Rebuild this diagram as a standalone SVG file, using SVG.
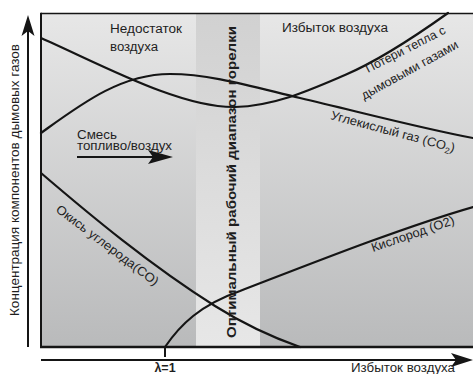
<svg xmlns="http://www.w3.org/2000/svg" width="473" height="374" viewBox="0 0 473 374">
  <defs>
    <linearGradient id="bgGrad" x1="0" y1="0" x2="0" y2="1">
      <stop offset="0" stop-color="#e7e7e7"/>
      <stop offset="1" stop-color="#b9babb"/>
    </linearGradient>
    <linearGradient id="bandGrad" x1="0" y1="0" x2="0" y2="1">
      <stop offset="0" stop-color="#d1d1d1"/>
      <stop offset="1" stop-color="#e7e7e7"/>
    </linearGradient>
  </defs>
  <style>
    .curve { fill: none; stroke: #151515; stroke-width: 2.2; stroke-linecap: round; }
    .axis { fill: none; stroke: #151515; stroke-width: 2; }
    .head { fill: #151515; stroke: none; }
    .lbl { font-family: "Liberation Sans", Arial, sans-serif; font-size: 12.5px; fill: #1e1e1e; }
    .bold { font-weight: bold; }
  </style>
  <rect x="0" y="0" width="473" height="374" fill="#ffffff"/>

  <g id="plot-area">
    <rect x="41" y="13" width="432" height="334" fill="url(#bgGrad)"/>
    <rect id="optimal-band" x="196" y="13" width="64" height="334" fill="url(#bandGrad)"/>
    <line x1="41" y1="13.5" x2="473" y2="13.5" stroke="#151515" stroke-width="1.5"/>
    <line x1="41" y1="12.8" x2="41" y2="348" stroke="#151515" stroke-width="2"/>
    <line x1="40" y1="347" x2="473" y2="347" stroke="#151515" stroke-width="2.5"/>
  </g>

  <g id="connectors">
    <path id="heat-loss" class="curve" d="M41,38 C100,64 180,108 235,107 C275,106 310,90 345,75 C380,60 420,33 448,13"/>
    <path id="co2" class="curve" d="M41,133 C80,105 120,74 170,74 C210,74 250,86 300,98 C360,112 420,128 473,138"/>
    <path id="co" class="curve" d="M41,173 C90,215 150,265 215,306 C250,328 280,340 300,347"/>
    <path id="o2" class="curve" d="M165,347 C180,325 200,305 240,291 C300,268 400,228 473,207"/>
    <line id="mix-arrow" class="axis" x1="77" y1="157" x2="160" y2="157"/>
    <polygon class="head" points="173,157 148,150 153,157 148,164"/>
  </g>

  <g id="axes">
    <line class="axis" x1="28" y1="30" x2="28" y2="347"/>
    <polygon class="head" points="28,15 21.5,36 28,31 34.5,36"/>
    <line class="axis" x1="41" y1="360" x2="460" y2="360"/>
    <polygon class="head" points="473,360 451,353 456,360 451,367"/>
    <line class="axis" x1="165" y1="347" x2="165" y2="357" stroke-width="1.5"/>
  </g>

  <g id="labels">
    <text class="lbl" x="110" y="33" textLength="72" lengthAdjust="spacingAndGlyphs">Недостаток</text>
    <text class="lbl" x="110" y="51" textLength="48" lengthAdjust="spacingAndGlyphs">воздуха</text>
    <text class="lbl" x="282" y="32" textLength="106" lengthAdjust="spacingAndGlyphs">Избыток воздуха</text>
    <text class="lbl" x="77" y="139" textLength="40" lengthAdjust="spacingAndGlyphs">Смесь</text>
    <text class="lbl" x="77" y="150" textLength="95" lengthAdjust="spacingAndGlyphs">топливо/воздух</text>
    <text class="lbl" transform="translate(368,73) rotate(-27)" textLength="88" lengthAdjust="spacingAndGlyphs">Потери тепла с</text>
    <text class="lbl" transform="translate(364,100) rotate(-29)" textLength="109" lengthAdjust="spacingAndGlyphs">дымовыми газами</text>
    <text class="lbl" transform="translate(330,119) rotate(15)" textLength="128" lengthAdjust="spacingAndGlyphs">Углекислый газ (CO<tspan font-size="8.5" dy="3">2</tspan><tspan dy="-3">)</tspan></text>
    <text class="lbl" transform="translate(55,211) rotate(37)" textLength="125" lengthAdjust="spacingAndGlyphs">Окись углерода(CO)</text>
    <text class="lbl" transform="translate(373,252) rotate(-19)" textLength="87" lengthAdjust="spacingAndGlyphs">Кислород (O2)</text>
    <text class="lbl bold" font-size="14" text-anchor="middle" transform="translate(236,182) rotate(-90)" textLength="312" lengthAdjust="spacingAndGlyphs">Оптимальный рабочий диапазон горелки</text>
    <text class="lbl" text-anchor="middle" transform="translate(19,180) rotate(-90)" textLength="272" lengthAdjust="spacingAndGlyphs">Концентрация компонентов дымовых газов</text>
    <text class="lbl bold" font-size="13" x="165" y="372" text-anchor="middle">λ=1</text>
    <text class="lbl" x="351" y="372" textLength="104" lengthAdjust="spacingAndGlyphs">Избыток воздуха</text>
  </g>
</svg>
